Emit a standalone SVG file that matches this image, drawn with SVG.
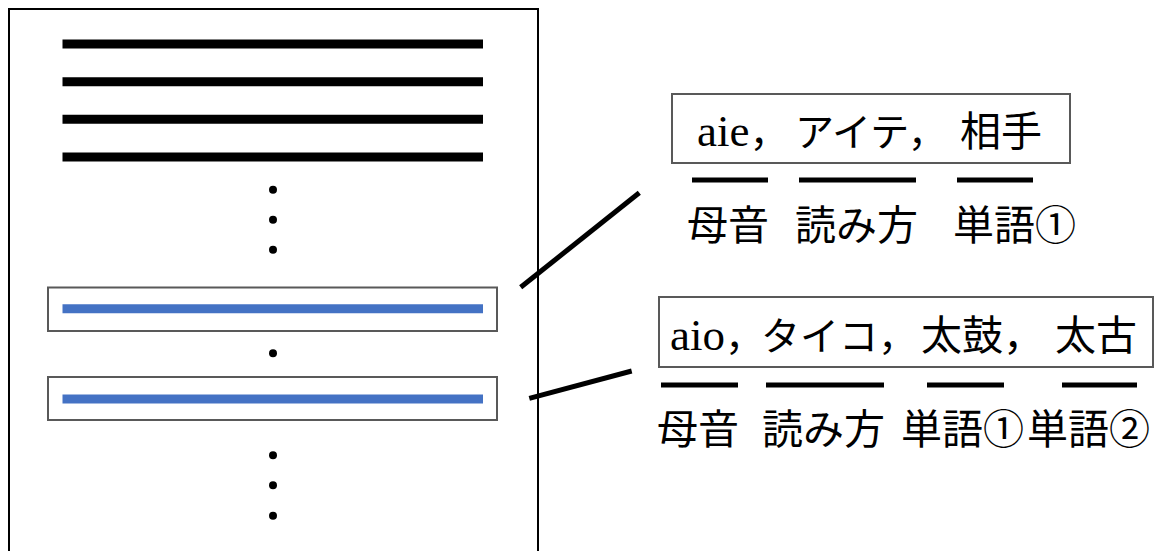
<svg xmlns="http://www.w3.org/2000/svg" width="1172" height="551" viewBox="0 0 1172 551">
<style>
.bar{stroke:#000;stroke-width:9}
.blue{stroke:#4472C4;stroke-width:9}
.dot{fill:#000}
.frame{fill:#fff;stroke:#595959;stroke-width:2}
.ul{stroke:#000;stroke-width:5}
.con{stroke:#000;stroke-width:5;stroke-linecap:butt}
.lat{font-family:"Liberation Serif","Noto Sans CJK JP",serif;font-size:45px}
.kana{font-family:"Noto Sans CJK JP",sans-serif;font-size:39px}
.cjk{font-family:"Noto Sans CJK JP",sans-serif;font-size:41px}
.lbl{font-family:"Noto Sans CJK JP",sans-serif;font-size:41px;fill:#000}
</style>
<rect width="1172" height="551" fill="#fff"/>
<g id="document">
<rect x="9" y="9" width="529" height="570" fill="none" stroke="#000" stroke-width="2"/>
<line class="bar" x1="62.5" y1="44" x2="483" y2="44"/>
<line class="bar" x1="62.5" y1="81.7" x2="483" y2="81.7"/>
<line class="bar" x1="62.5" y1="119.3" x2="483" y2="119.3"/>
<line class="bar" x1="62.5" y1="157" x2="483" y2="157"/>
<circle class="dot" cx="273" cy="189.7" r="4"/>
<circle class="dot" cx="273" cy="219.7" r="4"/>
<circle class="dot" cx="273" cy="249.7" r="4"/>
<circle class="dot" cx="273" cy="353.3" r="4"/>
<circle class="dot" cx="273" cy="455.3" r="4"/>
<circle class="dot" cx="273" cy="485.3" r="4"/>
<circle class="dot" cx="273" cy="515.7" r="4"/>
</g>
<g id="row1">
<rect class="frame" x="48" y="287.5" width="449" height="43.5"/>
<line class="blue" x1="62.5" y1="308.7" x2="483" y2="308.7"/>
</g>
<g id="row2">
<rect class="frame" x="48" y="377" width="449" height="43"/>
<line class="blue" x1="62.5" y1="399" x2="483" y2="399"/>
</g>
<g id="connectors">
<line class="con" x1="520.7" y1="287.3" x2="639.3" y2="192.7"/>
<line class="con" x1="529.3" y1="398.3" x2="631.7" y2="371"/>
</g>
<g id="entry1">
<rect class="frame" x="672" y="94" width="398" height="69"/>
<text y="146"><tspan class="lat" x="697">aie</tspan><tspan class="kana">，</tspan><tspan class="kana" x="795">アイテ，</tspan><tspan class="cjk" x="960">相手</tspan></text>
<line class="ul" x1="692" y1="180" x2="768" y2="180"/>
<line class="ul" x1="799" y1="180" x2="916" y2="180"/>
<line class="ul" x1="957" y1="180" x2="1033" y2="180"/>
<text class="lbl" x="687" y="240">母音</text>
<text class="lbl" x="795" y="240">読み方</text>
<text class="lbl" x="953" y="240">単語①</text>
</g>
<g id="entry2">
<rect class="frame" x="659" y="297" width="494" height="70"/>
<text y="350"><tspan class="lat" x="670">aio</tspan><tspan class="kana">，</tspan><tspan class="kana" x="761">タイコ，</tspan><tspan class="cjk" x="921">太鼓，</tspan><tspan class="cjk" x="1055">太古</tspan></text>
<line class="ul" x1="661" y1="385" x2="738" y2="385"/>
<line class="ul" x1="766" y1="385" x2="884" y2="385"/>
<line class="ul" x1="927" y1="385" x2="1004" y2="385"/>
<line class="ul" x1="1062" y1="385" x2="1137" y2="385"/>
<text class="lbl" x="657" y="444">母音</text>
<text class="lbl" x="762" y="444">読み方</text>
<text class="lbl" x="901" y="444">単語①</text>
<text class="lbl" x="1027" y="444">単語②</text>
</g>
</svg>
